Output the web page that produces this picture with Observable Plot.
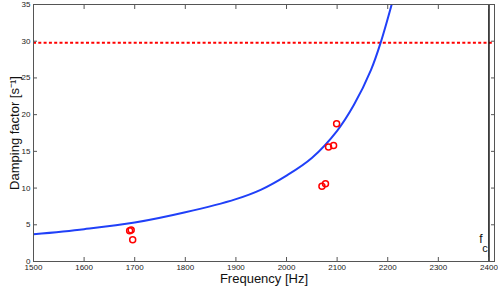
<!DOCTYPE html>
<html>
<head>
<meta charset="utf-8">
<script src="https://cdn.jsdelivr.net/npm/d3@7"></script>
<script src="https://cdn.jsdelivr.net/npm/@observablehq/plot@0.6"></script>
<style>
  html, body { margin: 0; padding: 0; background: #fff; }
  svg { display: block; }
</style>
</head>
<body>
<div id="chart"></div>
<script>
// Tick labels
const xTicks = [1500, 1600, 1700, 1800, 1900, 2000, 2100, 2200, 2300, 2400];
const yTicks = [0, 5, 10, 15, 20, 25, 30, 35];

// Model curve
const curveFreq = [1500, 1600, 1700, 1800, 1900, 1950, 2000, 2050, 2100, 2133, 2167, 2186, 2209];
const curveDamp = [3.7, 4.4, 5.3, 6.7, 8.5, 9.8, 11.7, 14.1, 17.8, 21.3, 26.1, 29.8, 35.3];

// Measured points
const measFreq = [1690, 1693, 1696, 2070, 2077, 2083, 2093, 2099];
const measDamp = [4.2, 4.3, 2.95, 10.25, 10.6, 15.6, 15.8, 18.75];

// Threshold and cutoff frequency
const threshold = 29.8;
const fc = 2400;

const curve = curveFreq.map((f, i) => ({f, d: curveDamp[i]}));
const meas = measFreq.map((f, i) => ({f, d: measDamp[i]}));

const font = "'Liberation Sans', Arial, Helvetica, sans-serif";
const gray = "#555";
const blank = () => "";
const fmt = d => String(d);

const chart = Plot.plot({
  width: 498,
  height: 286,
  marginLeft: 33,
  marginRight: 4,
  marginTop: 4,
  marginBottom: 25,
  style: {fontFamily: font, background: "#fff"},
  x: {domain: [1500, 2411]},
  y: {domain: [0, 35]},
  marks: [
    Plot.ruleY([threshold], {stroke: "#ff0000", strokeWidth: 2, strokeDasharray: "3,2.3"}),
    Plot.line(curve, {x: "f", y: "d", stroke: "#2040f8", strokeWidth: 2, curve: "catmull-rom", clip: true}),
    Plot.dot(meas, {x: "f", y: "d", r: 3, stroke: "#ff0000", strokeWidth: 1.5, fill: "none"}),
    Plot.ruleX([fc], {stroke: "#111", strokeWidth: 1.5}),
    Plot.text([fc], {x: d => d, frameAnchor: "bottom", lineAnchor: "middle", text: () => "f", dx: -8, dy: -22, fontSize: 12, fill: "#111"}),
    Plot.text([fc], {x: d => d, frameAnchor: "bottom", lineAnchor: "middle", text: () => "c", dx: -4, dy: -13, fontSize: 11, fill: "#111"}),
    Plot.frame({stroke: gray}),
    // inward tick marks
    Plot.axisX({anchor: "bottom", ticks: xTicks, tickSize: 4, dy: -4, tickFormat: blank, stroke: gray, label: null}),
    Plot.axisX({anchor: "top", ticks: xTicks, tickSize: 4, dy: 4, tickFormat: blank, stroke: gray, label: null}),
    Plot.axisY({anchor: "left", ticks: yTicks, tickSize: 4, dx: 4, tickFormat: blank, stroke: gray, label: null}),
    Plot.axisY({anchor: "right", ticks: yTicks, tickSize: 4, dx: -4, tickFormat: blank, stroke: gray, label: null}),
    // tick labels
    Plot.axisX({anchor: "bottom", ticks: xTicks, tickSize: 0, tickPadding: 3, tickFormat: fmt, fontSize: 8, color: "#222", label: null}),
    Plot.axisY({anchor: "left", ticks: yTicks, tickSize: 0, tickPadding: 3, tickFormat: fmt, fontSize: 8, color: "#222", label: null}),
    Plot.text(["Frequency [Hz]"], {frameAnchor: "bottom", lineAnchor: "middle", text: d => d, dy: 17, fontSize: 13, fill: "#111"}),
    Plot.text(["Damping factor [s\u207B\u00B9]"], {frameAnchor: "left", textAnchor: "middle", lineAnchor: "middle", text: d => d, dx: -19, rotate: -90, fontSize: 13, fill: "#111"})
  ]
});
document.getElementById("chart").append(chart);
</script>
</body>
</html>
